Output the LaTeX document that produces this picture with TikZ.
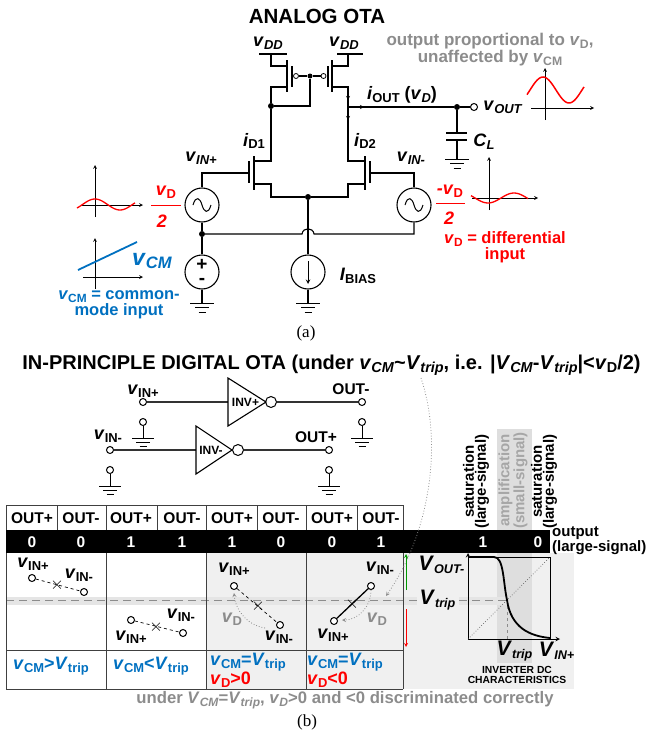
\documentclass[tikz,border=0pt]{standalone}
\usepackage{fontspec}
\setmainfont{Liberation Sans}
\newfontfamily\capfont{Liberation Serif}
\usepackage{graphicx}
\usetikzlibrary{shapes,calc,positioning}
\definecolor{oBlue}{RGB}{0,112,192}
\definecolor{oGray}{RGB}{140,140,140}
\newcommand{\vsb}[2]{\textit{#1}\raisebox{-.3ex}{\scalebox{.72}{#2}}}
\newcommand{\vsm}[2]{\textit{#1}\raisebox{-.3ex}{\scalebox{.6}{#2}}}
\newcommand{\fsz}[1]{\bfseries\fontsize{#1}{#1}\selectfont}
\newcommand{\fsl}[2]{\bfseries\fontsize{#1}{#2}\selectfont}
\tikzset{
	wire/.style={line width=1.1pt},
	gnd/.style={line width=1pt},
	big/.style={font=\fsz{18}},
	dot/.style={circle,fill=black,minimum size=6pt},
	term/.style={circle,draw,fill=white,line width=1pt,minimum size=7pt},
	srcbox/.style={circle,draw,line width=1.1pt,minimum size=34pt},
	bub/.style={circle,draw,fill=white,line width=1pt,minimum size=11pt},
	vbub/.style={circle,draw,fill=white,line width=.8pt,minimum size=5pt},
	inv/.style={line width=1.1pt,fill=white},
	dashln/.style={dashed,line width=.7pt},
	gline/.style={dotted,color=oGray,line width=.8pt,->},
	cross/.style={font=\normalfont\fontsize{17}{17}\selectfont},
	seg/.style={line width=1pt,color=black!75},
	vert/.style={font=\fsl{15}{12},rotate=90,align=center,anchor=west}
}
\begin{document}
\begin{tikzpicture}
	[x=1pt,y=-1pt,>=stealth,every node/.style={inner sep=0pt,font=\fsz{15.5}}]
	\useasboundingbox (0,0) rectangle (647,736);
	% backgrounds
	\fill[black!6] (206,553) rectangle (574,689);
	\fill[black!13] (497,429) rectangle (532,663);
	\fill[black!10] (6,597) rectangle (417,605);
	\fill[black!10] (459,597) rectangle (507,605);
	\draw[dashed,dash pattern=on 8pt off 5pt,color=black!45,line width=.9pt] (6,600.5) -- (417,600.5);
	\draw[dashed,dash pattern=on 8pt off 5pt,color=black!45,line width=.9pt] (459,600.5) -- (507,600.5);
	% titles
	\node[font=\fsz{20.5}] (titleA) at (317,16) {ANALOG OTA};
	\node[font=\fsz{20}] (titleB) at (331.5,365) {IN-PRINCIPLE DIGITAL OTA (under \vsb{v}{\textit{CM}}\textasciitilde\vsb{V}{\textit{trip}}, i.e. |\vsb{V}{\textit{CM}}-\vsb{V}{\textit{trip}}|<\vsb{v}{D}/2)};
	\node[font=\capfont\fontsize{17}{17}\selectfont] (capA) at (306,333) {(a)};
	\node[font=\capfont\fontsize{17}{17}\selectfont] (capB) at (307,722) {(b)};

	% pmos pair
	\coordinate (vddL) at (271,54);
	\coordinate (vddR) at (348,54);
	\node[big] (lvddL) at (268,43) {\vsb{v}{\textit{DD}}};
	\node[big] (lvddR) at (344,43) {\vsb{v}{\textit{DD}}};
	\draw[wire] (259,54) -- (287,54);
	\draw[wire] (337,54) -- (363,54);
	\draw[wire] (vddL) -- (271,66) -- (287,66);
	\draw[wire] (vddR) -- (348,66) -- (332,66);
	\draw[wire] (287,60) -- (287,92);
	\draw[wire] (332,60) -- (332,92);
	\draw[wire] (292,66) -- (292,87);
	\draw[wire] (328,66) -- (328,87);
	\node[vbub] (gpL) at (296,76) {};
	\node[vbub] (gpR) at (323.500,76) {};
	\node[dot,minimum size=5pt] (gpJ) at (310,76) {};
	\draw[wire] (gpL) -- (gpJ) -- (gpR);
	\node[dot] (jL) at (271,106) {};
	\draw[wire] (gpJ) -- (310,106) -- (jL);
	\coordinate (jR) at (348,107);
	\draw[wire] (287,87) -- (271,87) -- (jL);

	% nmos pair
	\coordinate (dnL) at (254,161);
	\coordinate (dnR) at (365,161);
	\node[dot] (jS) at (308,197) {};
	\draw[wire] (jL) -- (271,161) -- (dnL);
	\draw[wire] (332,87) -- (348,87) -- (348,161) -- (dnR);
	\draw[wire] (254,184) -- (271,184) -- (271,197) -- (jS);
	\draw[wire] (365,184) -- (348,184) -- (348,197) -- (jS);
	\draw[wire] (254,156) -- (254,190);
	\draw[wire] (365,156) -- (365,190);
	\draw[wire] (249,161) -- (249,183);
	\draw[wire] (370,161) -- (370,183);
	\draw[->,line width=.8pt] (348,90) -- (348,100);
	\draw[->,line width=.8pt] (348,110) -- (348,120);

	% sources
	\node[srcbox] (srcP) at (202,205) {};
	\node[srcbox] (srcM) at (414,205) {};
	\node[srcbox,font=\fsl{19}{14},align=center] (srcC) at (202,272) {+\\-};
	\node[srcbox] (srcI) at (308,272) {};
	\foreach \src in {srcP,srcM}
	{
		\draw[line width=1pt] ([xshift=-9pt]\src.center) .. controls ([xshift=-6pt,yshift=10pt]\src.center) and ([xshift=-2pt,yshift=7pt]\src.center) .. (\src.center) .. controls ([xshift=2pt,yshift=-7pt]\src.center) and ([xshift=6pt,yshift=-10pt]\src.center) .. ([xshift=9pt]\src.center);
	}
	\draw[->,line width=1pt] (308,261) -- (308,284);
	\node[dot] (jB) at (202,234) {};
	\draw[wire] (srcP) |- (249,173);
	\draw[wire] (srcM) |- (370,173);
	\draw[wire] (srcP) -- (jB) -- (srcC);
	\draw[wire] (jB) -- (302,234) .. controls (303,227) and (313,227) .. (314,234) -- (414,234) -- (srcM);
	\draw[wire] (jS) -- (srcI);

	% grounds of the analog part
	\foreach \gx/\gy in {202/303,308/303,457/159}
	{
		\draw[gnd] (\gx-12,\gy) -- (\gx+12,\gy);
		\draw[gnd] (\gx-7,\gy+4.500) -- (\gx+7,\gy+4.500);
		\draw[gnd] (\gx-3.500,\gy+9) -- (\gx+3.500,\gy+9);
	}
	\draw[wire] (srcC) -- (202,303);
	\draw[wire] (srcI) -- (308,303);

	% output
	\node[dot] (jO) at (457,107) {};
	\node[term] (tO) at (474,107) {};
	\draw[wire] (jR) -- (jO) -- (tO);
	\draw[->,line width=.8pt] (352,107) -- (364,107);
	\draw[wire] (jO) -- (457,133);
	\draw[line width=1.500pt] (446,133) -- (467,133);
	\draw[line width=1.500pt] (446,140) -- (467,140);
	\draw[wire] (457,140) -- (457,159);

	% labels of the analog part
	\node[big] (lvout) at (503,107) {\vsb{v}{\textit{OUT}}};
	\node[font=\fsz{18}] (liout) at (402,95) {\vsb{i}{OUT} (\vsb{v}{\textit{D}})};
	\node[big] (lcl) at (484,142) {\vsb{C}{\textit{L}}};
	\node[big] (lid1) at (254,141) {\vsb{i}{D1}};
	\node[big] (lid2) at (365,141) {\vsb{i}{D2}};
	\node[big] (linp) at (201,158) {\vsb{v}{\textit{IN+}}};
	\node[big] (linm) at (411,158) {\vsb{v}{\textit{IN-}}};
	\node[big] (libias) at (358,276) {\vsb{I}{BIAS}};
	\node[big,red] (lvdp) at (166,192) {\vsb{v}{D}};
	\draw[red,line width=1pt] (151,205.500) -- (181,205.500);
	\node[big,red] (ltwop) at (162,221) {\textit{2}};
	\node[big,red] (lvdm) at (450,191) {\textit{-}\vsb{v}{D}};
	\draw[red,line width=1pt] (436,203) -- (465,203);
	\node[big,red] (ltwom) at (449,218) {\textit{2}};
	\node[font=\fsl{16.5}{14.5},red,align=center] (ldiff) at (505,247) {\vsb{v}{D} = differential\\input};
	\node[font=\fsl{16.5}{14.5},color=oBlue,align=center] (lcm) at (119,305) {\vsb{v}{CM} = common-\\mode input};
	\node[font=\fsz{23},color=oBlue] (lvcm) at (152,261) {\vsb{v}{\textit{CM}}};
	\node[font=\fsl{17}{15},color=oGray,align=center] (lgray) at (490,49.500) {output proportional to \vsb{v}{D},\\unaffected by \vsb{v}{CM}};

	% small graphs
	\draw[->,line width=.7pt] (95,217) -- (95,165);
	\draw[->,line width=.7pt] (82,205) -- (143,205);
	\draw[red,line width=1.300pt] plot[domain=77:135,samples=40] (\x,{204.500-5.500*cos(7.200*(\x-95))});
	\draw[->,line width=.7pt] (95,289) -- (95,238);
	\draw[->,line width=.7pt] (83,277) -- (143,277);
	\draw[oBlue,line width=1.800pt] (78,270) -- (137,242);
	\draw[->,line width=.7pt] (545,120) -- (545,68);
	\draw[->,line width=.7pt] (531,108) -- (594,108);
	\draw[red,line width=1.500pt] plot[domain=527:584,samples=40] (\x,{90-13*cos(6.920*(\x-543))});
	\draw[->,line width=.7pt] (489,210) -- (489,157);
	\draw[->,line width=.7pt] (472,198) -- (538,198);
	\draw[red,line width=1.300pt] plot[domain=471:528,samples=40] (\x,{198+5*cos(6.920*(\x-488))});

	% inverters
	\node[term] (tIp) at (143,402) {};
	\node[term] (tOm) at (362,402) {};
	\node[term] (tIm) at (110,450) {};
	\node[term] (tOp) at (329,450) {};
	\node[bub] (bubP) at (271,402) {};
	\node[bub] (bubM) at (238,450) {};
	\draw[wire,color=black!80] (tIp) -- (228,402);
	\draw[wire,color=black!80] (bubP) -- (tOm);
	\draw[wire,color=black!80] (tIm) -- (196,450);
	\draw[wire,color=black!80] (bubM) -- (tOp);
	\draw[inv] (228,378) -- (266,402) -- (228,426) -- cycle;
	\draw[inv] (196,426) -- (232,450) -- (196,474) -- cycle;
	\node[font=\fsz{12}] (linvP) at (245.5,402) {INV+};
	\node[font=\fsz{12}] (linvM) at (211,450) {INV-};
	\node[big] (tIpL) at (143,391) {\vsb{v}{IN+}};
	\node[big] (tImL) at (108,436) {\vsb{v}{IN-}};
	\node (tOmL) at (351,389) {OUT-};
	\node (tOpL) at (316,437) {OUT+};
	\foreach \gn/\gx/\gy in {a/143/422,b/362/422,c/110/470,d/329/470}
	{
		\node[term] (g\gn) at (\gx,\gy) {};
		\draw[gnd] (g\gn) -- (\gx,\gy+16);
		\draw[gnd] (\gx-11,\gy+16) -- (\gx+11,\gy+16);
		\draw[gnd] (\gx-7,\gy+20) -- (\gx+7,\gy+20);
		\draw[gnd] (\gx-3.500,\gy+24) -- (\gx+3.500,\gy+24);
	}

	% table
	\draw[seg] (6,505) -- (403,505);
	\draw[seg] (6,650) -- (403,650);
	\draw[seg] (6,689) -- (403,689);
	\foreach \cx in {6,106,206,306,403}
	{
		\draw[seg] (\cx,505) -- (\cx,689);
	}
	\foreach \cx in {57,157,257,357}
	{
		\draw[seg] (\cx,505) -- (\cx,530);
	}
	\fill[black] (6,530) rectangle (550,553);
	\foreach \cx/\head/\val in {32/OUT+/0,81/OUT-/0,131/OUT+/1,182/OUT-/1,232/OUT+/1,281/OUT-/0,332/OUT+/0,381/OUT-/1}
	{
		\node (hd\cx) at (\cx,518.500) {\head};
		\node[white] (val\cx) at (\cx,542) {\val};
	}
	\node[white] (val483) at (483,542) {1};
	\node[white] (val538) at (538,542) {0};
	\node[font=\fsl{15}{12},align=left,anchor=west] (lout) at (552,541) {output\\(large-signal)};
	\node[vert] (lsatL) at (476,529) {saturation\\(large-signal)};
	\node[vert,color=black!35] (lamp) at (513,529) {amplification\\(small-signal)};
	\node[vert] (lsatR) at (544,529) {saturation\\(large-signal)};

	% cells
	\foreach \cn/\ax/\ay/\bx/\by/\mx/\my in {a/32/578/84/592/57/585,b/131/620/183/633/156/627,c/234/586/280/625/258/606}
	{
		\node[term] (p\cn) at (\ax,\ay) {};
		\node[term] (q\cn) at (\bx,\by) {};
		\draw[dashln] (p\cn) -- (q\cn);
		\node[cross] (x\cn) at (\mx,\my) {$\times$};
	}
	\node[term] (pd) at (371,586) {};
	\node[term] (qd) at (334,621) {};
	\draw[wire,line width=1.300pt] (pd) -- (qd);
	\node[cross] (xd) at (352,604) {$\times$};
	\node[big] (c1p) at (33,564) {\vsb{v}{IN+}};
	\node[big] (c1m) at (79,575) {\vsb{v}{IN-}};
	\node[big] (c2m) at (181,615) {\vsb{v}{IN-}};
	\node[big] (c2p) at (131,637) {\vsb{v}{IN+}};
	\node[big] (c3p) at (234,569) {\vsb{v}{IN+}};
	\node[big] (c3m) at (279,637) {\vsb{v}{IN-}};
	\node[big] (c4m) at (380,568) {\vsb{v}{IN-}};
	\node[big] (c4p) at (333,635) {\vsb{v}{IN+}};
	\node[big,color=oGray] (c3d) at (232,619) {\vsb{v}{D}};
	\node[big,color=oGray] (c4d) at (377,619) {\vsb{v}{D}};
	\draw[gline] (265,628) .. controls (248,625) and (236,612) .. (234,593);
	\draw[gline] (371,590) .. controls (371,607) and (358,620) .. (342,620);
	\draw[gline] (421,378) .. controls (442,440) and (432,530) .. (386,596);
	\node[big,color=oBlue,anchor=west] (s1) at (13,666) {\vsb{v}{CM}>\vsb{V}{trip}};
	\node[big,color=oBlue,anchor=west] (s2) at (113,666) {\vsb{v}{CM}<\vsb{V}{trip}};
	\node[font=\fsl{18}{15},color=oBlue,align=left,anchor=west] (s3) at (210,670.5) {\vsb{v}{CM}=\vsb{V}{trip}\\\textcolor{red}{\vsb{v}{D}>0}};
	\node[font=\fsl{18}{15},color=oBlue,align=left,anchor=west] (s4) at (307,670.5) {\vsb{v}{CM}=\vsb{V}{trip}\\\textcolor{red}{\vsb{v}{D}<0}};

	% inverter dc curve
	\draw[->,color=green!60!black,line width=.8pt] (406,590) -- (406,554);
	\draw[->,red,line width=.8pt] (406,609) -- (406,647);
	\draw[->,line width=1pt] (468,639) -- (468,553);
	\draw[->,line width=1pt] (468,639) -- (560,639);
	\draw[line width=1pt] (468,557) -- (550,557) -- (550,639);
	\draw[dotted,color=black!60,line width=.7pt] (468,639) -- (550,557);
	\draw[dashed,color=black!45,line width=.8pt] (507,600) -- (507,639);
	\draw[line width=1.800pt] (470,557) -- (494,557) .. controls (504,557) and (503,582) .. (507,600) .. controls (511,628) and (530,636) .. (550,638);
	\node[font=\fsz{21}] (lvo) at (441.5,565) {\vsm{V}{\textit{OUT-}}};
	\node[font=\fsz{21}] (lvt) at (437.5,600) {\vsm{V}{\textit{trip}}};
	\node[font=\fsz{21}] (lvt2) at (514.5,651) {\vsm{V}{\textit{trip}}};
	\node[font=\fsz{21}] (lvin) at (556.5,651) {\vsm{V}{\textit{IN+}}};
	\node[font=\fsl{10.3}{9.5},align=center] (linv) at (517,675) {INVERTER DC\\CHARACTERISTICS};
	\node[font=\fsz{16.700},color=oGray] (lunder) at (345,700) {under \vsb{V}{\textit{CM}}=\vsb{V}{\textit{trip}}, \vsb{v}{\textit{D}}>0 and <0 discriminated correctly};
\end{tikzpicture}
\end{document}
